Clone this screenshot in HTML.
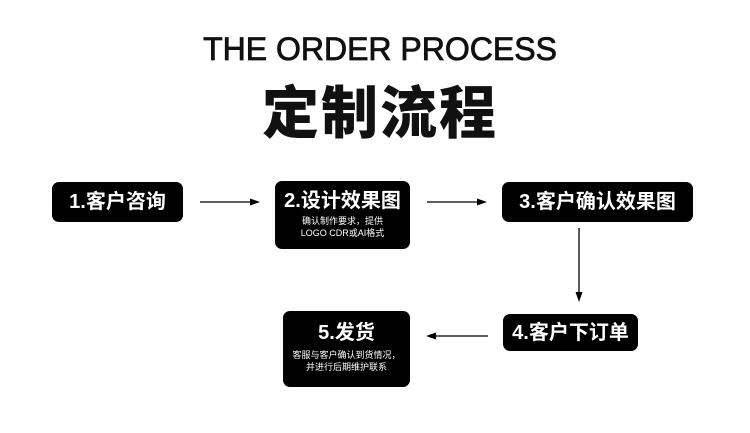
<!DOCTYPE html>
<html><head><meta charset="utf-8"><style>
body{margin:0;width:750px;height:433px;background:#fff;position:relative;overflow:hidden;font-family:"Liberation Sans","Noto Sans CJK SC",sans-serif;}
.t1{position:absolute;left:0;width:760px;top:31px;text-align:center;font-size:32px;color:#111;-webkit-text-stroke:0.8px #111;}
.t2{position:absolute;left:0;width:760px;top:68px;text-align:center;font-size:57px;font-weight:900;color:#111;letter-spacing:2px;}
.b{position:absolute;background:#000;color:#fff;border-radius:7px;text-align:center;}
.m{font-size:20px;line-height:20px;font-weight:bold;}
.s{font-size:9px;line-height:12px;margin-top:4px;}
</style></head><body>
<div class="t1">THE ORDER PROCESS</div>
<div class="t2">定制流程</div>
<div class="b" style="left:52px;top:182px;width:131px;height:40px;"><div class="m" style="margin-top:10px">1.客户咨询</div></div>
<div class="b" style="left:275px;top:181px;width:135px;height:68px;"><div class="m" style="margin-top:10px">2.设计效果图</div><div class="s">确认制作要求，提供<br>LOGO CDR或AI格式</div></div>
<div class="b" style="left:502px;top:182px;width:191px;height:40px;"><div class="m" style="margin-top:10px">3.客户确认效果图</div></div>
<div class="b" style="left:503px;top:314px;width:135px;height:37px;"><div class="m" style="margin-top:9px">4.客户下订单</div></div>
<div class="b" style="left:283px;top:311px;width:127px;height:76px;"><div class="m" style="margin-top:12px">5.发货</div><div class="s" style="margin-top:6px">客服与客户确认到货情况，<br>并进行后期维护联系</div></div>
<svg width="750" height="433" style="position:absolute;left:0;top:0">
<g stroke="#000" stroke-width="1.3" fill="#000">
<line x1="200" y1="202" x2="252" y2="202"/><polygon points="260,202 250,198.5 250,205.5" stroke="none"/>
<line x1="427" y1="202" x2="479" y2="202"/><polygon points="487,202 477,198.5 477,205.5" stroke="none"/>
<line x1="579" y1="228" x2="579" y2="294"/><polygon points="579,302 575.5,292 582.5,292" stroke="none"/>
<line x1="488" y1="336" x2="434" y2="336"/><polygon points="426,336 436,332.5 436,339.5" stroke="none"/>
</g></svg>
</body></html>
